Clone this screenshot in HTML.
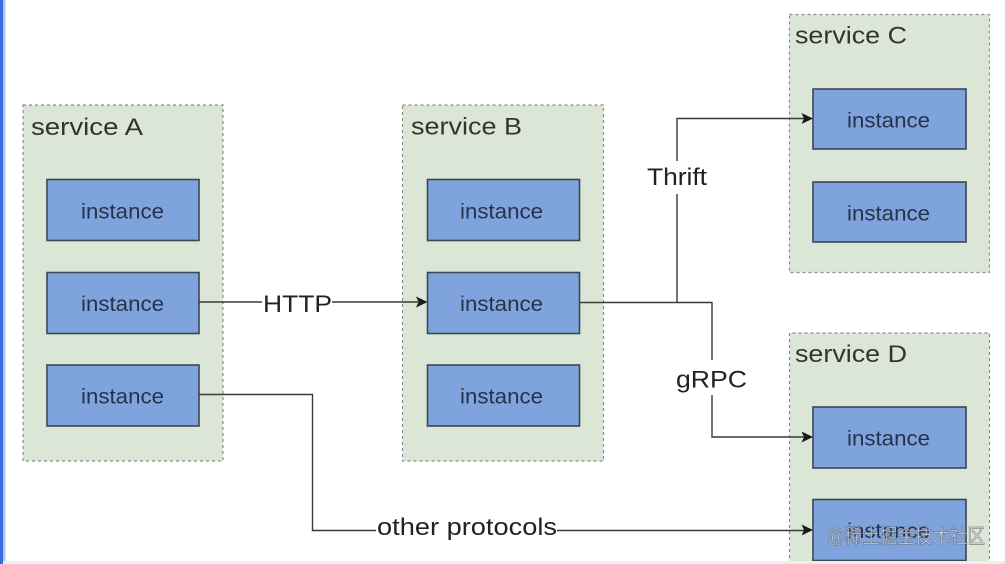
<!DOCTYPE html>
<html>
<head>
<meta charset="utf-8">
<style>
  html, body { margin: 0; padding: 0; background: #ffffff; }
  body { width: 1005px; height: 564px; overflow: hidden; }
  svg { display: block; }
  .title { font-family: "Liberation Sans", Arial, sans-serif; font-size: 24px; fill: #333333; }
  .inst { font-family: "Liberation Sans", Arial, sans-serif; font-size: 21px; fill: #26324a; }
  .lbl { font-family: "Liberation Sans", Arial, sans-serif; font-size: 24px; fill: #222222; }
  .cont { fill: #dce6d6; stroke: #8c8c8c; stroke-width: 1.2; stroke-dasharray: 3 3; }
  .contfill { fill: #dce6d6; }
  .contedge { fill: none; stroke: #8c8c8c; stroke-width: 1.2; stroke-dasharray: 3 3; }
  .box { fill: #7fa4dd; stroke: #3b4656; stroke-width: 1.6; }
  .ln { fill: none; stroke: #3a3a3a; stroke-width: 1.4; }
  .arr { fill: #1a1a1a; }
</style>
</head>
<body>
<svg width="1005" height="564" viewBox="0 0 1005 564" xmlns="http://www.w3.org/2000/svg">
  <rect x="0" y="0" width="1005" height="564" fill="#ffffff"/>

  <!-- containers -->
  <rect class="cont" x="23" y="105" width="200" height="356"/>
  <rect class="cont" x="402.5" y="105" width="201" height="356"/>
  <rect class="cont" x="789.5" y="14.5" width="200" height="258"/>
  <rect class="contfill" x="789.5" y="333" width="200" height="231"/>
  <path class="contedge" d="M789.5 564 V333 H989.5 V564"/>

  <!-- titles -->
  <text class="title" x="31" y="135" textLength="112" lengthAdjust="spacingAndGlyphs">service A</text>
  <text class="title" x="411" y="134.5" textLength="111" lengthAdjust="spacingAndGlyphs">service B</text>
  <text class="title" x="795" y="43.5" textLength="112" lengthAdjust="spacingAndGlyphs">service C</text>
  <text class="title" x="795" y="362" textLength="112" lengthAdjust="spacingAndGlyphs">service D</text>

  <!-- instances A -->
  <rect class="box" x="47" y="179.5" width="152" height="61"/>
  <rect class="box" x="47" y="272.5" width="152" height="61"/>
  <rect class="box" x="47" y="365" width="152" height="61"/>
  <text class="inst" x="81" y="218.5" textLength="83" lengthAdjust="spacingAndGlyphs">instance</text>
  <text class="inst" x="81" y="311" textLength="83" lengthAdjust="spacingAndGlyphs">instance</text>
  <text class="inst" x="81" y="403.5" textLength="83" lengthAdjust="spacingAndGlyphs">instance</text>

  <!-- instances B -->
  <rect class="box" x="427.5" y="179.5" width="152" height="61"/>
  <rect class="box" x="427.5" y="272.5" width="152" height="61"/>
  <rect class="box" x="427.5" y="365" width="152" height="61"/>
  <text class="inst" x="460" y="218.5" textLength="83" lengthAdjust="spacingAndGlyphs">instance</text>
  <text class="inst" x="460" y="311" textLength="83" lengthAdjust="spacingAndGlyphs">instance</text>
  <text class="inst" x="460" y="403.5" textLength="83" lengthAdjust="spacingAndGlyphs">instance</text>

  <!-- instances C -->
  <rect class="box" x="813" y="89" width="153" height="60"/>
  <rect class="box" x="813" y="182" width="153" height="60"/>
  <text class="inst" x="847" y="127.5" textLength="83" lengthAdjust="spacingAndGlyphs">instance</text>
  <text class="inst" x="847" y="220.5" textLength="83" lengthAdjust="spacingAndGlyphs">instance</text>

  <!-- instances D -->
  <rect class="box" x="813" y="407" width="153" height="61"/>
  <rect class="box" x="813" y="499.5" width="153" height="61"/>
  <text class="inst" x="847" y="445.5" textLength="83" lengthAdjust="spacingAndGlyphs">instance</text>
  <text class="inst" x="847" y="538" textLength="83" lengthAdjust="spacingAndGlyphs" fill="#3a4660">instance</text>

  <!-- HTTP connector -->
  <path class="ln" d="M199 302 H262 M332 302 H418"/>
  <path class="arr" d="M427.5 302 L416 296.5 L418.5 302 L416 307.5 Z"/>
  <text class="lbl" x="263" y="312" textLength="69" lengthAdjust="spacingAndGlyphs">HTTP</text>

  <!-- B -> junction -> gRPC -->
  <path class="ln" d="M579.5 302.5 H712 V360 M712 395 V437 H804"/>
  <path class="arr" d="M813 437 L801.5 431.5 L804 437 L801.5 442.5 Z"/>
  <text class="lbl" x="676" y="387.5" textLength="71" lengthAdjust="spacingAndGlyphs">gRPC</text>

  <!-- Thrift -->
  <path class="ln" d="M677 302.5 V194 M677 161 V118.5 H804"/>
  <path class="arr" d="M813 118.5 L801.5 113 L804 118.5 L801.5 124 Z"/>
  <text class="lbl" x="647" y="185" textLength="60" lengthAdjust="spacingAndGlyphs">Thrift</text>

  <!-- other protocols -->
  <path class="ln" d="M199 394.5 H312.5 V530.5 H376 M557 530.5 H804"/>
  <path class="arr" d="M813 530 L801.5 524.5 L804 530 L801.5 535.5 Z"/>
  <text class="lbl" x="377" y="535" textLength="180" lengthAdjust="spacingAndGlyphs">other protocols</text>

  <!-- watermark -->
  <text x="827" y="543" textLength="158" lengthAdjust="spacingAndGlyphs"
        style="font-family: 'Liberation Sans', 'Noto Sans CJK SC', sans-serif; font-size: 20px;"
        fill="rgba(235,240,250,0.75)" stroke="rgba(70,70,80,0.55)" stroke-width="0.8">@稀土掘金技术社区</text>

  <!-- left blue edge -->
  <rect x="0" y="0" width="3" height="564" fill="#3a6be0"/>
  <rect x="3" y="0" width="2.5" height="564" fill="#a9c9f7"/>

  <!-- bottom strip -->
  <rect x="0" y="561" width="1005" height="3" fill="#ededed"/>
  <rect x="0" y="561" width="3" height="3" fill="#3a6be0"/>
</svg>
</body>
</html>
